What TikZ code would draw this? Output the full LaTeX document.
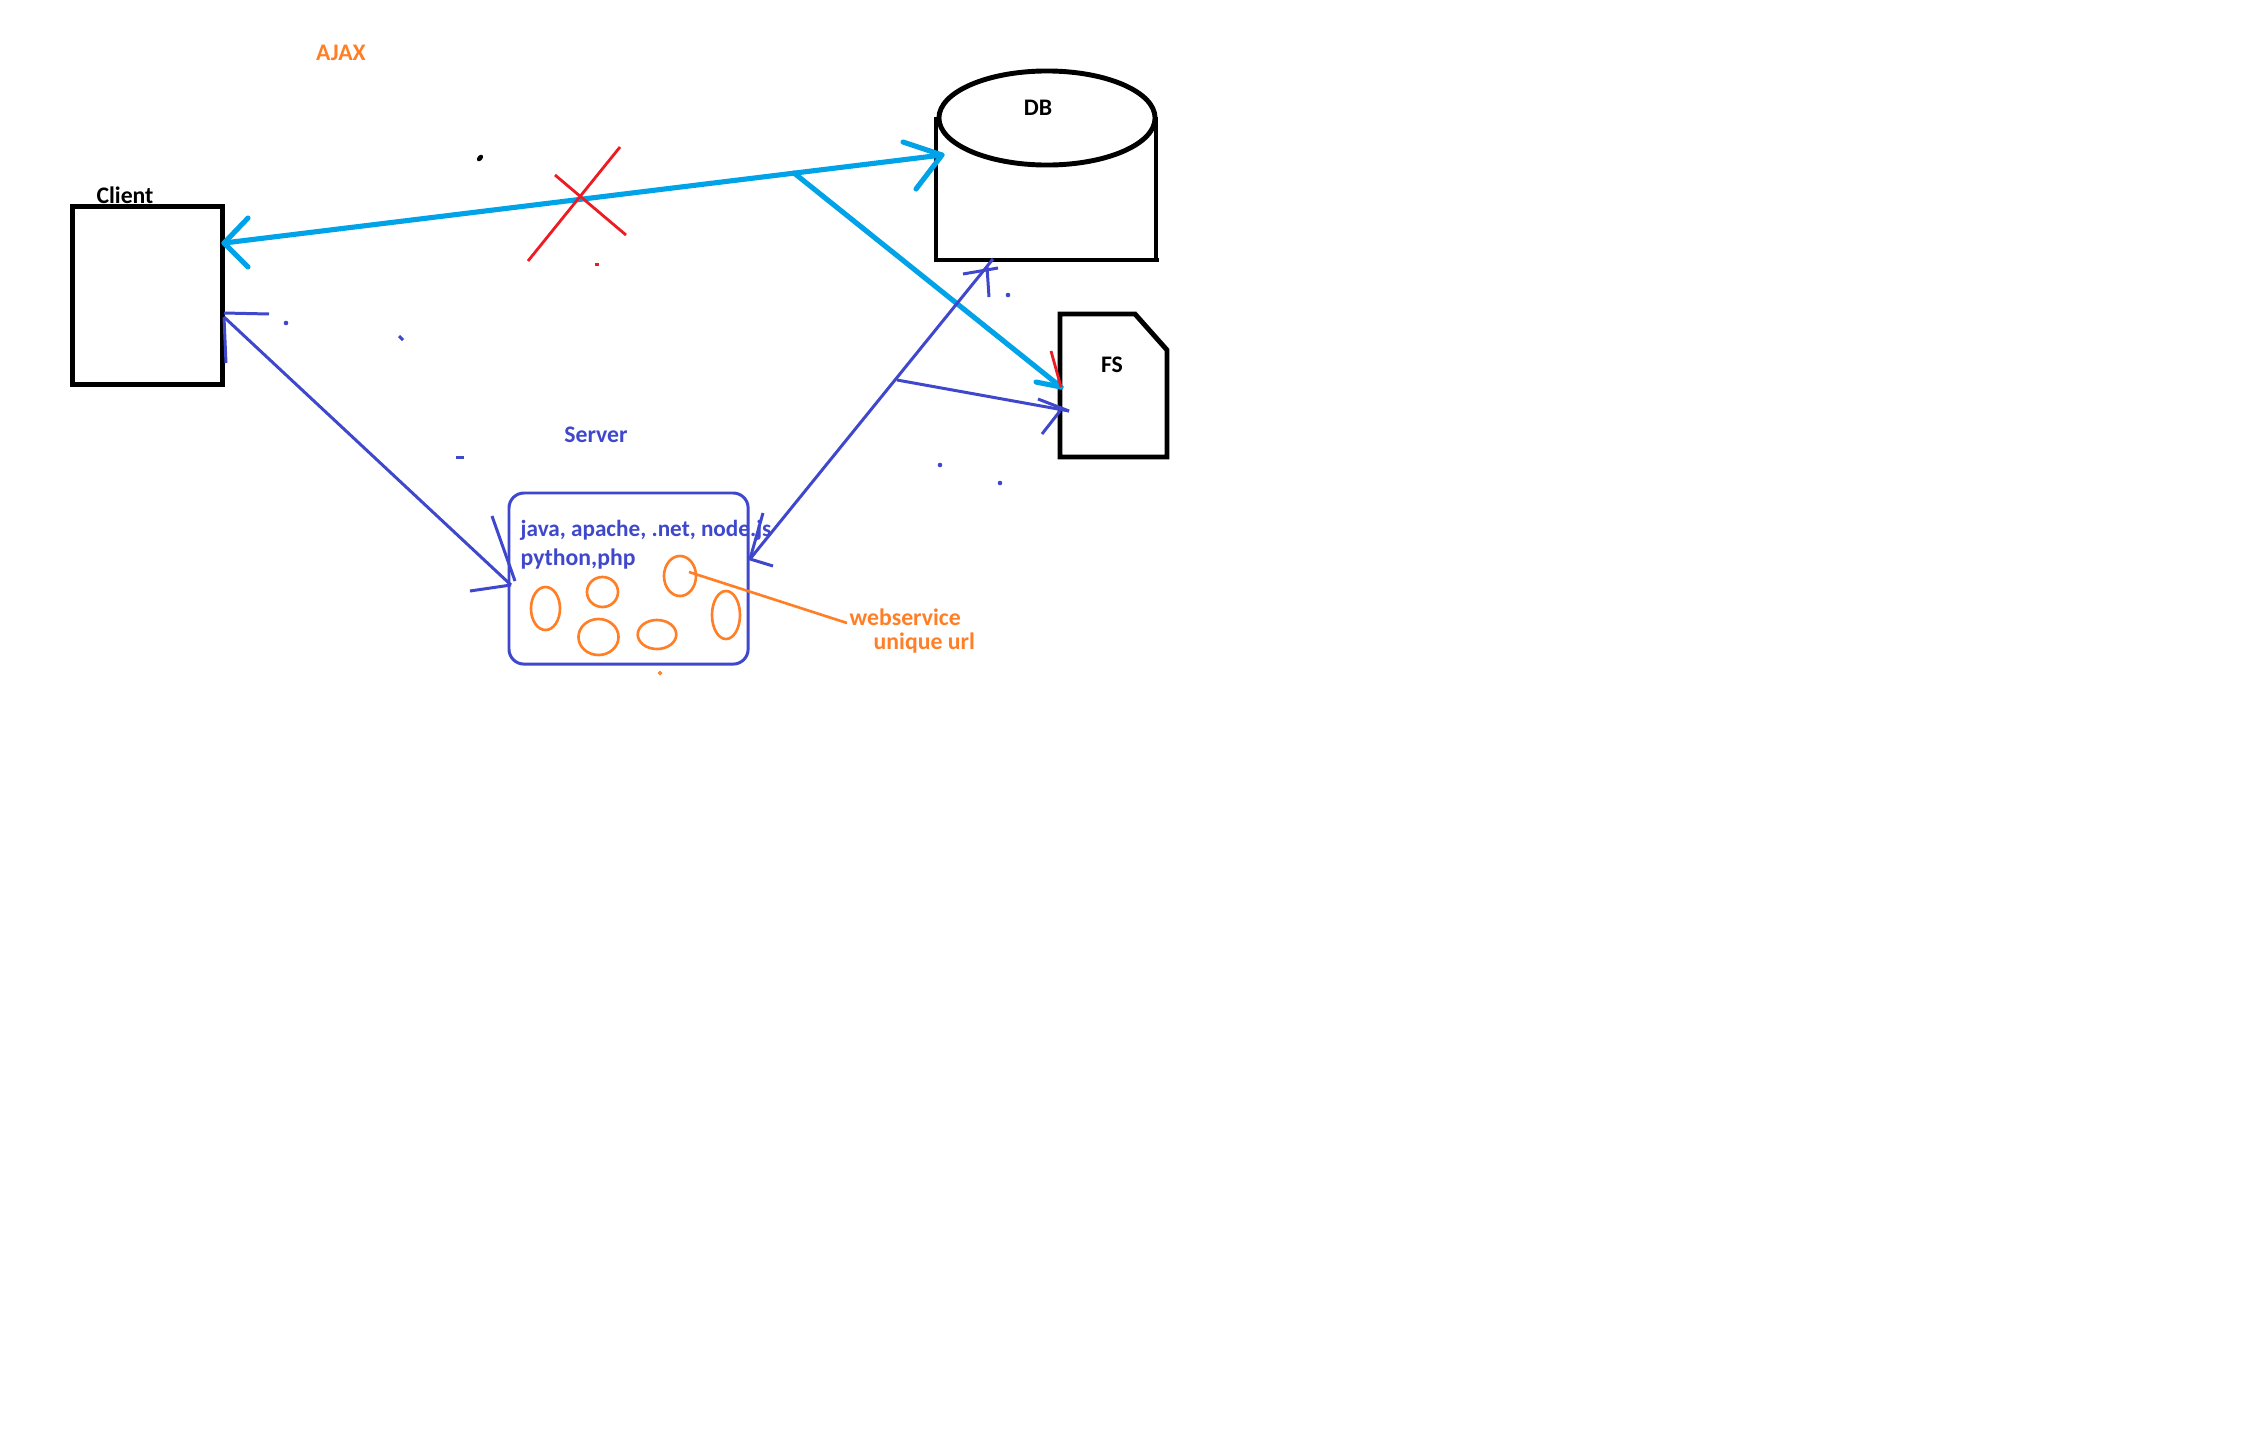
\documentclass[tikz,border=0pt]{standalone}
\usepackage{fontspec}
\setmainfont{Carlito}
\definecolor{pcyan}{HTML}{00A2E8}
\definecolor{pblue}{HTML}{3F48CC}
\definecolor{porange}{HTML}{FF7F27}
\definecolor{pred}{HTML}{ED1C24}
\tikzset{
  px/.style={x=0.01cm,y=-0.01cm},
  lbl/.style={inner sep=0pt,font=\fontsize{6.75pt}{8pt}\selectfont\bfseries},
  lblsm/.style={inner sep=0pt,font=\fontsize{6.6pt}{8pt}\selectfont\bfseries},
  blk/.style={draw=black,line width=1.4pt},
  cyanln/.style={draw=pcyan,line width=1.45pt,line cap=round,line join=round},
  blueln/.style={draw=pblue,line width=0.85pt,line join=round},
  orgln/.style={draw=porange,line width=0.75pt},
  redln/.style={draw=pred,line width=0.8pt},
  orgell/.style={draw=porange,line width=0.75pt,ellipse,inner sep=0pt},
  speck/.style={circle,inner sep=0pt,minimum size=1.3pt,fill=#1}
}
\usetikzlibrary{shapes.geometric}
\begin{document}
\begin{tikzpicture}[px]
\useasboundingbox[fill=white] (0,0) rectangle (2268,1436);
% named points
\coordinate (cTip) at (224,243);
\coordinate (cA1) at (248,218);
\coordinate (cA2) at (248,267);
\coordinate (dTip) at (942,155);
\coordinate (dA1) at (903,142);
\coordinate (dA2) at (916,189);
\coordinate (brS) at (794,173);
\coordinate (fTip) at (1061,387);
\coordinate (fA1) at (1036,382);
\coordinate (fA2) at (1051,351);
\coordinate (x1a) at (620,147);
\coordinate (x1b) at (528,261);
\coordinate (x2a) at (555,175);
\coordinate (x2b) at (626,235);
\coordinate (s1) at (224,317);
\coordinate (s1a) at (269,314);
\coordinate (s1c) at (224,313);
\coordinate (s1b) at (226,363);
\coordinate (s2) at (511,585);
\coordinate (s2a) at (492,516);
\coordinate (s2c) at (515,581);
\coordinate (s2b) at (470,591);
\coordinate (r1) at (750,559);
\coordinate (r1a) at (763,513);
\coordinate (r1b) at (773,566);
\coordinate (r2) at (993,259);
\coordinate (r2a) at (963,274);
\coordinate (r2b) at (998,268);
\coordinate (r2c) at (989,297);
\coordinate (r2d) at (987,267);
\coordinate (v1) at (897,380);
\coordinate (v2) at (1069,411);
\coordinate (v2a) at (1038,399);
\coordinate (v2b) at (1042,434);
\coordinate (v2c) at (1060,411);
\coordinate (w1) at (689,572);
\coordinate (w2) at (847,623);

% black shapes
\node[blk,rectangle,inner sep=0pt,anchor=north west,minimum width=1.5cm,minimum height=1.78cm] (client) at (70,204) {};
\node[blk,ellipse,inner sep=0pt,minimum width=2.16cm,minimum height=0.94cm] (dbtop) at (1047,118) {};
\coordinate (dbNW) at (936,117);
\coordinate (dbSW) at (936,260);
\coordinate (dbSE) at (1159,260);
\coordinate (dbNE) at (1156,117);
\coordinate (dbSEb) at (1156,260);
\draw[blk] (dbNW) -- (dbSW) -- (dbSE);
\draw[blk] (dbNE) -- (dbSEb);
\coordinate (fs1) at (1060,314);
\coordinate (fs2) at (1135,314);
\coordinate (fs3) at (1167,350);
\coordinate (fs4) at (1167,457);
\coordinate (fs5) at (1060,457);
\draw[blk,line join=miter] (fs1) -- (fs2) -- (fs3) -- (fs4) -- (fs5) -- cycle;

% server
\node[draw=pblue,line width=0.85pt,rectangle,rounded corners=0.15cm,inner sep=0pt,minimum width=2.39cm,minimum height=1.71cm,anchor=north west] (server) at (507.5,491.5) {};

% cyan connectors
\draw[cyanln] (cTip) -- (dTip);
\draw[cyanln] (cA1) -- (cTip) -- (cA2);
\draw[cyanln] (dA1) -- (dTip) -- (dA2);
\draw[cyanln] (brS) -- (fTip);
\draw[cyanln] (fA1) -- (fTip);
% red
\draw[redln] (fA2) -- (fTip);
\draw[redln] (x1a) -- (x1b);
\draw[redln] (x2a) -- (x2b);
% blue connectors
\draw[blueln] (s1) -- (s2);
\draw[blueln] (s1c) -- (s1a);
\draw[blueln] (s1) -- (s1b);
\draw[blueln] (s2a) -- (s2c);
\draw[blueln] (s2b) -- (s2);
\draw[blueln] (r1) -- (r2);
\draw[blueln] (r1a) -- (r1) -- (r1b);
\draw[blueln] (r2a) -- (r2b);
\draw[blueln] (r2c) -- (r2d);
\draw[blueln] (v1) -- (v2);
\draw[blueln] (v2a) -- (v2);
\draw[blueln] (v2b) -- (v2c);

% orange
\node[orgell,minimum width=0.29cm,minimum height=0.43cm] (e1) at (545.5,608.5) {};
\node[orgell,minimum width=0.31cm,minimum height=0.30cm] (e2) at (602.5,592) {};
\node[orgell,minimum width=0.32cm,minimum height=0.40cm] (e3) at (680,576) {};
\node[orgell,minimum width=0.28cm,minimum height=0.48cm] (e4) at (726,615) {};
\node[orgell,minimum width=0.40cm,minimum height=0.36cm] (e5) at (598.5,637) {};
\node[orgell,minimum width=0.385cm,minimum height=0.29cm] (e6) at (657,634.5) {};
\draw[orgln] (w1) -- (w2);

% specks
\node[draw=black,fill=black,ellipse,rotate=50,inner sep=0pt,minimum width=0.06cm,minimum height=0.035cm] (sk1) at (480,158) {};
\node[rectangle,fill=pred,inner sep=0pt,minimum width=0.045cm,minimum height=0.03cm] (sk2) at (597,264) {};
\node[speck=pblue] (sk3) at (286,323) {};
\coordinate (sk4a) at (399,336);
\coordinate (sk4b) at (403,340);
\draw[blueln] (sk4a) -- (sk4b);
\coordinate (sk5a) at (456,457);
\coordinate (sk5b) at (464,457);
\draw[blueln] (sk5a) -- (sk5b);
\node[speck=pblue] (sk6) at (1008,295) {};
\node[speck=pblue] (sk7) at (940,465) {};
\node[speck=pblue] (sk8) at (1000,483) {};
\node[circle,draw=porange,line width=0.4pt,inner sep=0pt,minimum size=0.03cm] (sk9) at (660,673) {};

% labels
\node[lbl,text=porange] (ajax) at (341,53) {AJAX};
\node[lbl,text=black] (clientl) at (125,195.5) {Client};
\node[lbl,text=black] (dbl) at (1038,108) {DB};
\node[lbl,text=black] (fsl) at (1112,365) {FS};
\node[lbl,text=pblue] (serverl) at (596,435) {Server};
\node[lblsm,text=pblue,anchor=west] (techa) at (520,530) {java, apache, .net, node.js};
\node[lbl,text=pblue,anchor=west] (techb) at (520,559) {python,php};
\node[lbl,text=porange,anchor=west] (wsl) at (849,617) {webservice};
\node[lbl,text=porange,anchor=west] (url) at (873,643) {unique url};
\end{tikzpicture}
\end{document}
